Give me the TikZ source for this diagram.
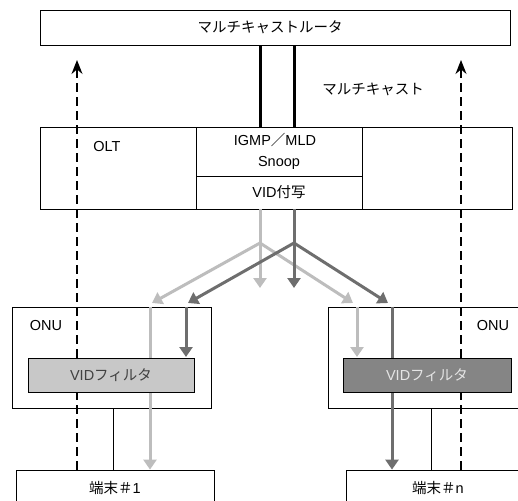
\documentclass[tikz,border=0pt]{standalone}
\usepackage{fontspec}
\setmainfont{Liberation Sans}
\newfontfamily\jp{Noto Sans CJK JP}
\usetikzlibrary{arrows.meta}

\definecolor{mclight}{HTML}{BDBDBD}
\definecolor{mcdark}{HTML}{6E6E6E}
\definecolor{filtlight}{HTML}{C8C8C8}
\definecolor{filtdark}{HTML}{858585}

\tikzset{
  box/.style={draw, line width=0.8pt, inner sep=0pt, fill=white},
  openbox/.style={draw, line width=0.8pt, inner sep=0pt},
  lbl/.style={inner sep=0pt},
  trunk/.style={line width=3pt},
  thinlink/.style={line width=0.7pt},
  lightarr/.style={draw=mclight, line width=3pt, -{Triangle[width=13pt,length=10pt]}},
  darkarr/.style={draw=mcdark, line width=3pt, -{Triangle[width=13pt,length=10pt]}},
  uplink/.style={line width=1.4pt, dash pattern=on 9pt off 5pt,
                 -{Stealth[width=11pt,length=14pt]}},
  filter/.style={draw, line width=0.8pt, minimum width=166pt, minimum height=34pt},
}

\begin{document}
\begin{tikzpicture}[x=1pt, y=-1pt, font=\fontsize{14.5}{17}\selectfont]
\useasboundingbox (0,0) rectangle (518,500);
\clip (0,0) rectangle (518,500);

% multicast router
\node[box, minimum width=470pt, minimum height=35pt] (router) at (275,27.5) {};
\node[lbl] (routertxt) at (270,27.5) {\jp マルチキャストルータ};

% OLT with its two inner blocks
\node[box, minimum width=472pt, minimum height=82pt] (olt) at (276,168) {};
\node[openbox, minimum width=166pt, minimum height=49pt] (snoop) at (279,151.5) {};
\node[lbl] (snooptxt1) at (275,140) {IGMP{\jp ／}MLD};
\node[lbl] (snooptxt2) at (279,163) {Snoop};
\node[openbox, minimum width=166pt, minimum height=33pt] (vid) at (279,192.5) {VID{\jp 付写}};
\node[lbl] (olttxt) at (107,147) {OLT};

\node[lbl] (mctxt) at (373,89) {\jp マルチキャスト};

% ONUs and terminals
\node[openbox, minimum width=199pt, minimum height=101pt] (onuL) at (111.5,357.5) {};
\node[openbox, minimum width=202pt, minimum height=101pt] (onuR) at (429,357.5) {};
\node[lbl] (onuLtxt) at (46,326) {ONU};
\node[lbl] (onuRtxt) at (493,326) {ONU};
\node[box, minimum width=198pt, minimum height=36pt] (t1) at (115,488) {{\jp 端末＃}1};
\node[box, minimum width=184pt, minimum height=36pt] (tn) at (438,488) {{\jp 端末＃}n};

% reference positions
\coordinate (cL) at (260,243);
\coordinate (cD) at (294,243);
\coordinate (endL) at (260,288);
\coordinate (endD) at (294,288);
\coordinate (tipLL) at (152,303);
\coordinate (tipLR) at (353,303);
\coordinate (tipDL) at (188,303);
\coordinate (tipDR) at (388,303);
\coordinate (xLl) at (150,0);
\coordinate (xLd) at (186,0);
\coordinate (xRl) at (357,0);
\coordinate (xRd) at (392,0);
\coordinate (lk1) at (113,0);
\coordinate (lkn) at (431,0);
\coordinate (upL) at (77,60);
\coordinate (upR) at (461,60);

% multicast trunks from the router into the OLT
\draw[trunk] (router.south -| cL) -- (olt.north -| cL);
\draw[trunk] (router.south -| cD) -- (olt.north -| cD);

% ONU to terminal links
\draw[thinlink] (onuL.south -| lk1) -- (t1.north -| lk1);
\draw[thinlink] (onuR.south -| lkn) -- (tn.north -| lkn);

% light-grey multicast stream
\draw[lightarr] (olt.south -| cL) -- (endL);
\draw[lightarr] (cL) -- (tipLL);
\draw[lightarr] (cL) -- (tipLR);
\draw[lightarr] (onuL.north -| xLl) -- (t1.north -| xLl);
\draw[lightarr] (onuR.north -| xRl) -- (357,357);

% dark-grey multicast stream
\draw[darkarr] (olt.south -| cD) -- (endD);
\draw[darkarr] (cD) -- (tipDL);
\draw[darkarr] (cD) -- (tipDR);
\draw[darkarr] (onuL.north -| xLd) -- (186,357);
\draw[darkarr] (onuR.north -| xRd) -- (tn.north -| xRd);

% upstream (dashed) paths to the router
\draw[uplink] (t1.north -| upL) -- (upL);
\draw[uplink] (tn.north -| upR) -- (upR);

% VID filters
\node[filter, fill=filtlight, text=black!75] (fL) at (111,375) {VID{\jp フィルタ}};
\node[filter, fill=filtdark, minimum width=168pt, text=white!90!black] (fR) at (427,375) {VID{\jp フィルタ}};
\end{tikzpicture}
\end{document}
